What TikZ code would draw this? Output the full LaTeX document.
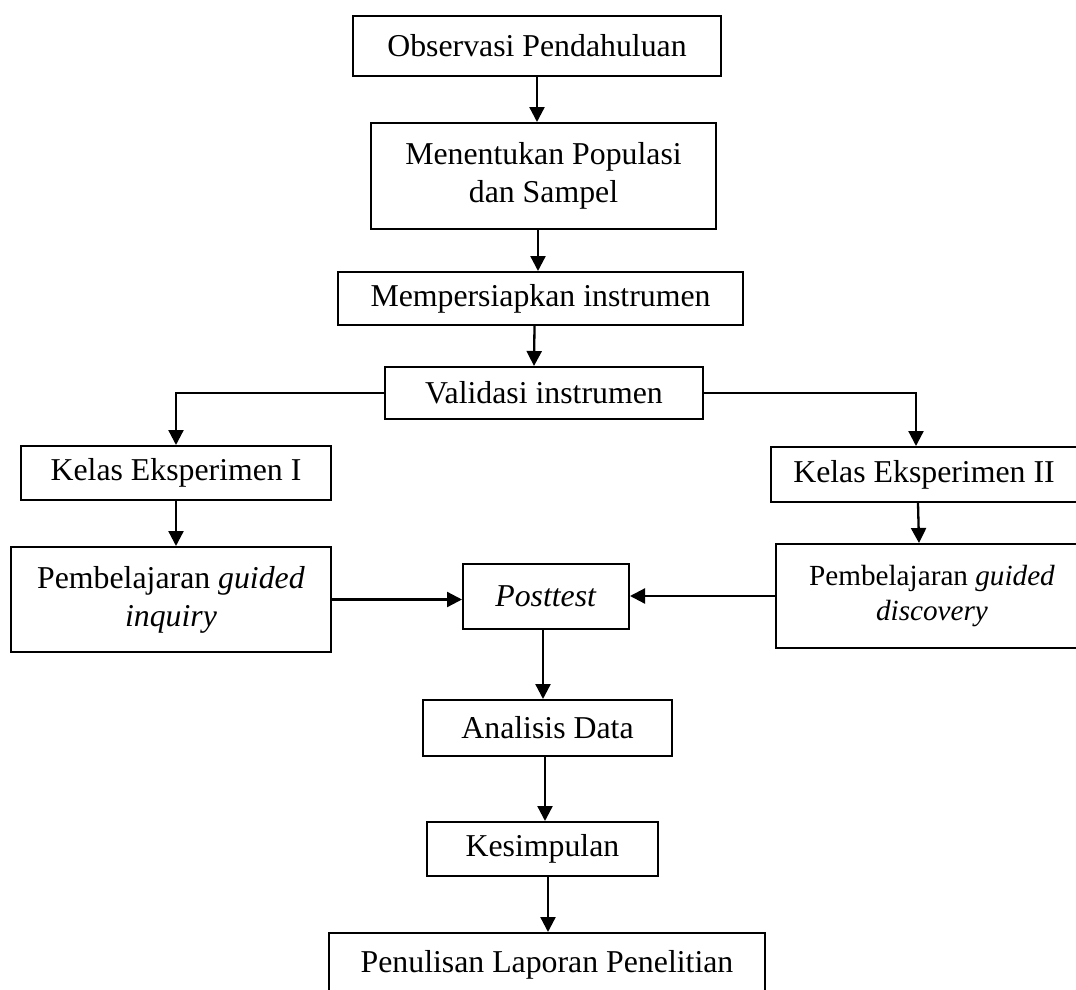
\documentclass[tikz,border=0pt]{standalone}
\usepackage{fontspec}
\setmainfont{Liberation Serif}
\usetikzlibrary{arrows.meta,calc}
\begin{document}
\begin{tikzpicture}[x=1pt,y=-1pt,
  box/.style={draw, line width=2pt, inner sep=0pt, align=center, font=\fontsize{31.8}{38}\selectfont},
  smallbox/.style={box, font=\fontsize{29.2}{35}\selectfont},
  arr/.style={line width=2.3pt, -{Triangle[length=15pt,width=15pt]}}]
\useasboundingbox (0,0) rectangle (1076,990);

\node[box, minimum width=368pt, minimum height=60pt] (obs) at (537,46) {Observasi Pendahuluan};
\node[box, minimum width=345pt, minimum height=106pt] (pop) at (543.5,176) {Menentukan Populasi\\dan Sampel};
\node[box, minimum width=405pt, minimum height=53pt] (ins) at (540.5,298.5) {Mempersiapkan instrumen};
\node[box, minimum width=318pt, minimum height=52pt] (val) at (544,393) {Validasi instrumen};
\node[box, minimum width=310pt, minimum height=54pt] (k1) at (176,473) {Kelas Eksperimen I};
\node[box, minimum width=306pt, minimum height=55pt] (k2) at (924,474.5) {Kelas Eksperimen II};
\node[box, minimum width=320pt, minimum height=105pt] (inq) at (171,599.5) {Pembelajaran \textit{guided}\\\textit{inquiry}};
\node[smallbox, minimum width=312pt, minimum height=104pt] (disc) at (932,596) {Pembelajaran \textit{guided}\\\textit{discovery}};
\node[box, minimum width=166pt, minimum height=65pt] (post) at (546,596.5) {\textit{Posttest}};
\node[box, minimum width=249pt, minimum height=56pt] (ana) at (547.5,728) {Analisis Data};
\node[box, minimum width=231pt, minimum height=54pt] (kes) at (542.5,849) {Kesimpulan};
\node[box, minimum width=436pt, minimum height=64pt] (pen) at (547,965) {Penulisan Laporan Penelitian};

\draw[arr] (obs.south) -- (obs.south |- pop.north);
\draw[arr] ([xshift=-5.5pt]pop.south) -- ([xshift=-2.5pt]ins.north);
\draw[arr] ([xshift=-6pt]ins.south) -- ([xshift=-10pt]val.north);
\draw[arr] (val.west) -| (k1.north);
\draw[arr] (val.east) -| ([xshift=-8pt]k2.north);
\draw[arr] (k1.south) -- ([xshift=5pt]inq.north);
\draw[arr] ([xshift=-6pt]k2.south) -- ([xshift=-13pt]disc.north);
\draw[arr] (inq.east) -- (inq.east -| post.west);
\draw[arr] (disc.west) -- (disc.west -| post.east);
\draw[arr] ([xshift=-3pt]post.south) -- ([xshift=-4.5pt]ana.north);
\draw[arr] ([xshift=-2.5pt]ana.south) -- ([xshift=2.5pt]kes.north);
\draw[arr] ([xshift=5.5pt]kes.south) -- ([xshift=1pt]pen.north);
\end{tikzpicture}
\end{document}
